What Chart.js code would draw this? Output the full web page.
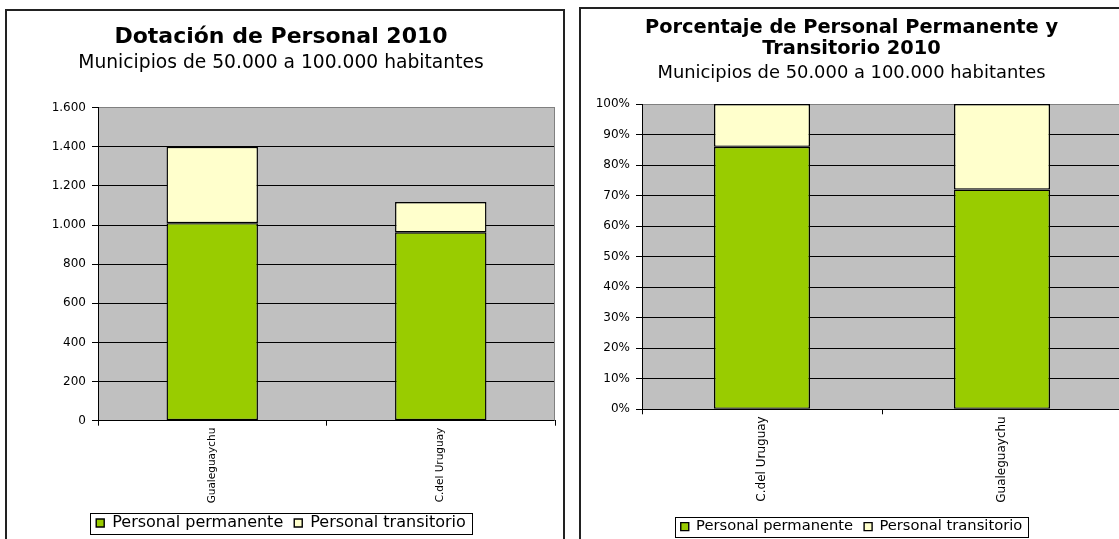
<!DOCTYPE html>
<html>
<head>
<meta charset="utf-8">
<script src="https://cdn.jsdelivr.net/npm/chart.js@4.4.1/dist/chart.umd.min.js"></script>
<style>
html, body { margin: 0; padding: 0; background: #fff; overflow: hidden; }
body { width: 1119px; height: 539px; position: relative; }
.box { position: absolute; border: 2px solid #222; background: #fff; }
#boxA { left: 5px; top: 9px; }
#boxB { left: 579px; top: 7px; }
canvas { display: block; }
</style>
</head>
<body>
<div class="box" id="boxA"><canvas id="chartA" width="556" height="536"></canvas></div>
<div class="box" id="boxB"><canvas id="chartB" width="546" height="541"></canvas></div>
<script>
// Dotación (cantidad de personas)
const ciudadesA = ['Gualeguaychu', 'C.del Uruguay'];
const permanenteA = [1010, 963];
const transitorioA = [390, 155];
const ticksA = ['0', '200', '400', '600', '800', '1.000', '1.200', '1.400', '1.600'];

// Porcentaje
const ciudadesB = ['C.del Uruguay', 'Gualeguaychu'];
const permanenteB = [86, 72];
const transitorioB = [14, 28];
const ticksB = ['0%', '10%', '20%', '30%', '40%', '50%', '60%', '70%', '80%', '90%', '100%'];

const series = ['Personal permanente', 'Personal transitorio'];
const subtitulo = 'Municipios de 50.000 a 100.000 habitantes';

const VERDE = '#99cc00';
const CREMA = '#ffffcc';

Chart.defaults.font.family = '"DejaVu Sans", sans-serif';
Chart.defaults.color = '#000';

// fondo gris del area de trazado + borde de la leyenda
const fondoPlot = {
    id: 'fondoPlot',
    beforeDraw(chart) {
        const { ctx, chartArea: a } = chart;
        ctx.save();
        ctx.fillStyle = '#c0c0c0';
        ctx.fillRect(a.left, a.top, a.right - a.left, a.bottom - a.top);
        ctx.restore();
    },
    beforeDatasetsDraw(chart) {
        const { ctx, chartArea: a } = chart;
        ctx.save();
        ctx.strokeStyle = '#808080';
        ctx.lineWidth = 1;
        ctx.beginPath();
        ctx.moveTo(a.right - 0.5, a.top);
        ctx.lineTo(a.right - 0.5, a.bottom);
        ctx.stroke();
        ctx.restore();
    },
    afterDraw(chart) {
        const hb = chart.legend && chart.legend.legendHitBoxes;
        if (!hb || !hb.length) return;
        const left = Math.min(...hb.map(h => h.left));
        const right = Math.max(...hb.map(h => h.left + h.width));
        const top = hb[0].top, h = hb[0].height;
        const ctx = chart.ctx;
        ctx.save();
        ctx.strokeStyle = '#000';
        ctx.lineWidth = 1;
        ctx.strokeRect(Math.round(left - 6) + 0.5, Math.round(top - 2) + 0.5, Math.round(right - left + 12), Math.round(h + 5));
        ctx.restore();
    }
};

function dataset(label, data, color) {
    return {
        label, data,
        backgroundColor: color,
        borderColor: '#000',
        borderWidth: 1.4,
        borderSkipped: false,
        barPercentage: 0.4,
        categoryPercentage: 1
    };
}

function opciones(c) {
    return {
        responsive: false,
        animation: false,
        layout: { padding: { left: 0, right: c.padRight, top: 0, bottom: 6 } },
        plugins: {
            title: {
                display: true, text: c.titulo, color: '#000',
                font: { size: c.tituloSize, weight: 'bold', lineHeight: c.tituloLh },
                padding: { top: c.tituloTop, bottom: c.tituloBottom }
            },
            subtitle: {
                display: true, text: subtitulo, color: '#000',
                font: { size: c.subSize, lineHeight: 1.2 },
                padding: { top: 0, bottom: c.subBottom }
            },
            legend: {
                position: 'bottom',
                labels: { color: '#000', font: { size: c.legSize }, boxWidth: 8, boxHeight: 8, padding: 11 }
            },
            tooltip: { enabled: false }
        },
        scales: {
            x: {
                stacked: true,
                offset: true,
                grid: { offset: true, drawOnChartArea: false, color: '#000', tickColor: '#000', tickLength: 5 },
                border: { color: '#000' },
                ticks: { minRotation: 90, maxRotation: 90, autoSkip: false, padding: 2, font: { size: c.catSize } },
                afterFit: s => { s.height = c.xAlto; }
            },
            y: {
                stacked: true,
                min: 0,
                max: c.max,
                grid: {
                    color: g => (g.tick && g.tick.value === c.max) ? '#808080' : '#000',
                    tickColor: '#000',
                    tickLength: 6
                },
                border: { color: '#000' },
                ticks: { stepSize: c.paso, padding: 6, font: { size: 12 }, callback: (v, i) => c.etiquetas[i] },
                afterFit: s => { s.width = c.yAncho; }
            }
        }
    };
}

new Chart(document.getElementById('chartA'), {
    type: 'bar',
    data: {
        labels: ciudadesA,
        datasets: [dataset(series[0], permanenteA, VERDE), dataset(series[1], transitorioA, CREMA)]
    },
    options: opciones({
        titulo: 'Dotación de Personal 2010', tituloSize: 22, tituloLh: 1, tituloTop: 15, tituloBottom: 3.8,
        subSize: 18.7, subBottom: 33.5, legSize: 16, catSize: 10.5,
        padRight: 8, xAlto: 83.3, yAncho: 91, max: 1600, paso: 200, etiquetas: ticksA
    }),
    plugins: [fondoPlot]
});

new Chart(document.getElementById('chartB'), {
    type: 'bar',
    data: {
        labels: ciudadesB,
        datasets: [dataset(series[0], permanenteB, VERDE), dataset(series[1], transitorioB, CREMA)]
    },
    options: opciones({
        titulo: ['Porcentaje de Personal Permanente y', 'Transitorio 2010'], tituloSize: 19.4, tituloLh: 1.08, tituloTop: 8.5, tituloBottom: 3.6,
        subSize: 17.9, subBottom: 19.6, legSize: 14.7, catSize: 12,
        padRight: 5, xAlto: 99, yAncho: 61, max: 100, paso: 10, etiquetas: ticksB
    }),
    plugins: [fondoPlot]
});
</script>
</body>
</html>
